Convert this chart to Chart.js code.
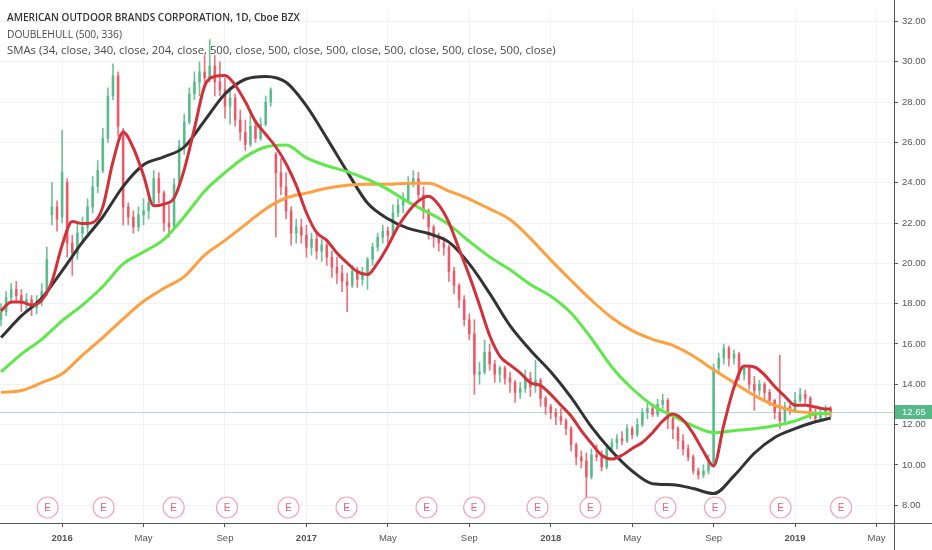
<!DOCTYPE html>
<html>
<head>
<meta charset="utf-8">
<script src="https://cdn.jsdelivr.net/npm/chart.js@4.4.1/dist/chart.umd.min.js"></script>
<style>
  html, body { margin: 0; padding: 0; background: #fff; }
  #wrap { position: relative; width: 932px; height: 550px; }
  #legend { position: absolute; left: 7px; top: 9px; font-family: 'Open Sans', sans-serif; font-size: 11px;
            color: #4a4a4a; pointer-events: none; white-space: nowrap; }
  #legend div { height: 16.5px; line-height: 16.5px; }
  #legend .title { font-weight: 600; color: #333; }
</style>
</head>
<body>
<div id="wrap">
  <canvas id="chart" width="932" height="550"></canvas>
  <div id="legend">
    <div><span class="title" data-w="293">AMERICAN OUTDOOR BRANDS CORPORATION, 1D, Cboe BZX</span></div>
    <div><span data-w="115">DOUBLEHULL (500, 336)</span></div>
    <div><span data-w="549">SMAs (34, close, 340, close, 204, close, 500, close, 500, close, 500, close, 500, close, 500, close, 500, close)</span></div>
  </div>
</div>
<script>
// x values are months counted from Jan 2016 (0 = Jan 2016, 12 = Jan 2017 ...)
// weekly candles, first one in early Oct 2015
const candleStart = -3;
const candleStep = 0.25;
const candleOpen = [
  17.2,17.6,18.3,18.7,18.4,18.0,18.2,17.8,18.1,18.6,
  22.4,22.8,22.3,24.0,21.0,20.5,21.5,21.8,22.8,23.8,
  24.6,26.2,28.3,29.3,26.6,22.8,22.3,21.8,22.4,22.6,
  23.0,24.2,23.5,22.0,21.8,23.9,25.8,27.0,28.4,29.0,
  29.5,29.2,29.8,29.0,28.6,27.8,28.2,27.1,26.5,25.9,
  26.8,26.2,26.9,28.0,25.4,24.5,23.8,22.6,21.5,21.8,
  21.4,20.8,21.2,20.6,20.9,20.3,19.8,19.5,19.1,18.9,
  19.6,19.2,19.5,20.2,20.8,21.3,21.6,21.4,22.5,22.9,
  23.1,24.0,24.2,23.4,22.6,21.8,21.3,21.0,20.8,19.6,
  18.9,18.2,17.2,16.5,14.5,14.6,15.6,15.0,14.5,14.8,
  14.3,14.1,13.6,13.8,14.3,13.9,14.2,13.3,12.9,12.6,
  12.4,12.2,11.8,11.0,10.4,10.2,9.4,10.5,10.4,9.9,
  10.8,11.1,11.3,11.2,11.8,11.5,12.0,12.6,12.8,12.5,
  13.0,13.2,12.3,11.8,11.2,10.8,10.4,9.7,9.5,9.7,
  10.1,14.8,15.3,15.8,15.3,15.5,14.5,14.8,14.0,13.7,
  14.0,13.6,13.2,12.6,12.2,12.9,12.7,13.2,13.5,13.3,
  12.6,12.3,12.5,12.8
];
const candleHigh = [
  18.0,18.6,19.0,19.1,18.7,18.5,18.4,18.4,19.0,20.8,
  24.0,23.1,26.6,24.2,21.4,22.0,22.3,23.2,24.3,25.1,
  26.7,28.7,29.9,29.5,26.7,23.0,22.6,22.8,23.2,23.5,
  24.6,24.5,23.6,22.9,24.2,26.1,27.4,28.7,29.5,30.0,
  30.3,31.1,30.3,30.0,29.2,28.7,28.4,27.6,27.1,27.4,
  27.1,27.2,28.3,28.7,25.5,25.2,24.5,22.8,22.2,22.2,
  21.9,21.5,21.5,21.2,21.0,20.6,20.3,19.9,19.5,19.9,
  19.8,19.8,20.3,21.0,21.5,21.9,21.8,22.9,23.2,23.5,
  24.3,24.6,24.5,23.8,22.7,21.9,21.5,21.3,20.9,19.8,
  19.0,18.4,17.5,17.2,15.1,16.2,16.0,15.2,14.9,14.9,
  14.6,14.2,14.1,14.7,14.6,15.2,14.3,13.4,13.0,12.8,
  12.8,12.3,11.9,11.1,10.7,10.6,10.8,11.0,10.7,11.0,
  11.3,11.5,11.65,12.0,11.9,12.3,12.8,13.1,13.0,13.25,
  13.5,13.3,12.5,11.9,11.5,11.0,10.5,9.85,10.0,10.5,
  15.0,15.55,16.0,15.9,15.7,15.6,14.9,14.9,14.4,14.2,
  14.1,13.75,13.25,15.45,13.1,13.0,13.6,13.8,13.7,13.4,
  12.8,12.8,12.95,12.9
];
const candleLow = [
  16.9,17.4,18.0,18.1,17.6,17.7,17.4,17.5,17.9,18.4,
  21.9,21.6,22.0,20.3,19.4,20.2,21.1,21.5,22.5,23.5,
  24.5,26.0,28.1,26.3,21.9,21.9,21.5,21.6,21.9,22.2,
  22.9,23.0,21.6,21.3,21.7,23.8,25.4,26.9,28.1,28.3,
  28.7,29.0,28.3,28.3,27.2,26.9,26.8,26.1,25.6,25.8,
  26.0,26.1,26.8,27.8,21.3,23.4,22.2,20.9,21.0,21.0,
  20.3,20.4,20.2,20.1,19.9,19.3,19.0,18.6,17.6,18.8,
  18.8,18.9,18.7,19.9,20.6,21.0,21.0,21.3,22.3,22.5,
  23.0,23.8,23.2,22.2,21.2,20.8,20.6,20.4,19.1,18.5,
  17.8,16.9,16.2,13.5,14.0,14.5,14.7,14.1,14.1,14.0,
  13.6,13.1,13.3,13.6,13.4,13.6,12.9,12.5,12.3,12.0,
  12.0,11.5,10.7,10.0,9.85,8.4,9.3,10.2,9.7,9.8,
  10.7,10.8,11.0,11.1,11.3,11.4,11.9,12.3,12.4,12.4,
  12.8,11.8,11.3,10.8,10.5,10.2,9.55,9.3,9.35,9.55,
  10.0,14.6,15.0,14.9,15.0,14.2,14.2,13.75,12.7,13.45,
  13.25,12.95,12.3,11.8,12.1,12.5,12.6,13.1,13.0,12.3,
  12.1,12.2,12.4,12.4
];
const candleClose = [
  17.6,18.3,18.7,18.4,18.0,18.2,17.8,18.1,18.6,20.2,
  22.8,22.2,24.5,21.0,20.5,21.5,21.8,22.8,23.8,24.6,
  26.2,28.3,29.3,26.8,22.8,22.3,21.8,22.4,22.6,23.0,
  24.2,23.5,22.0,21.8,23.9,25.8,27.0,28.4,29.0,29.5,
  29.2,29.8,29.0,28.6,27.8,28.2,27.1,26.5,25.9,26.8,
  26.2,26.9,28.0,28.6,24.5,23.8,22.6,21.5,21.8,21.4,
  20.8,21.2,20.6,20.9,20.3,19.8,19.5,19.1,18.9,19.6,
  19.2,19.5,20.2,20.8,21.3,21.6,21.4,22.5,22.9,23.1,
  24.0,24.2,23.4,22.6,21.8,21.3,21.0,20.8,19.6,18.9,
  18.2,17.2,16.5,14.5,14.6,15.6,15.0,14.5,14.8,14.3,
  14.1,13.6,13.8,14.3,13.9,14.2,13.3,12.9,12.6,12.4,
  12.2,11.8,11.0,10.4,10.2,9.4,10.5,10.4,9.9,10.8,
  11.1,11.3,11.2,11.8,11.5,12.0,12.6,12.8,12.5,13.0,
  13.2,12.3,11.8,11.2,10.8,10.4,9.7,9.5,9.7,10.1,
  14.8,15.3,15.8,15.3,15.5,14.5,14.8,14.0,13.7,14.0,
  13.6,13.2,12.6,12.2,12.9,12.7,13.2,13.5,13.3,12.6,
  12.3,12.5,12.8,12.65
];

// SMA 34 (red), read every half month
const redMonths = [
  -3,-2.5,-2,-1.5,-1,-0.5,0,0.5,1,1.5,2,2.5,3,3.5,4,4.5,5,5.5,6,6.5,
  7,7.5,8,8.5,9,9.5,10,10.5,11,11.5,12,12.5,13,13.5,14,14.5,15,15.5,16,16.5,
  17,17.5,18,18.5,19,19.5,20,20.5,21,21.5,22,22.5,23,23.5,24,24.5,25,25.5,26,26.5,
  27,27.5,28,28.5,29,29.5,30,30.5,31,31.5,32,32.5,33,33.5,34,34.5,35,35.5,36,36.5,
  37,37.5,37.75
];
const sma34 = [
  17.64,18.08,18.08,17.93,18.17,19.10,20.90,22.07,21.97,22.02,
  22.80,25.04,26.50,25.72,24.36,22.85,22.94,23.24,24.65,26.69,
  28.79,29.27,29.32,28.84,28.01,27.03,26.40,25.77,24.94,23.87,
  22.51,21.53,21.14,20.51,20.02,19.59,19.44,20.02,20.85,21.82,
  22.55,23.09,23.33,22.90,22.02,20.70,19.39,17.93,16.42,15.40,
  14.96,14.57,14.08,13.94,13.50,12.96,12.43,11.70,11.07,10.48,
  10.29,10.48,10.82,11.11,11.60,12.18,12.53,12.23,11.55,10.68,
  9.95,11.99,13.84,14.91,14.86,14.47,13.89,13.40,12.96,12.96,
  12.87,12.77,12.77
];

// slow lines, read once a month
const maMonths = [
  -3,-2,-1,0,1,2,3,4,5,6,7,8,9,10,11,12,13,14,15,16,17,18,19,20,
  21,22,23,24,25,26,27,28,29,30,31,32,33,34,35,36,37,37.75
];
const doubleHull = [
  16.32,17.39,18.27,19.63,21.05,22.31,23.82,24.89,25.28,25.77,27.08,28.40,29.13,29.27,
  28.98,27.81,26.21,24.55,22.99,22.21,21.73,21.48,21.05,19.97,18.51,16.91,15.69,14.62,
  13.35,11.89,10.68,9.70,9.07,9.02,8.83,8.58,9.46,10.58,11.36,11.80,12.14,12.33
];
const sma204 = [
  14.62,15.50,16.23,17.15,17.93,18.85,19.97,20.56,21.19,22.31,23.58,24.50,25.28,25.77,
  25.87,25.23,24.84,24.55,24.16,23.67,23.04,22.51,21.92,21.09,20.32,19.68,18.95,18.37,
  17.54,16.27,14.86,13.79,12.96,12.43,11.94,11.60,11.70,11.80,11.94,12.18,12.53,12.57
];
const sma340 = [
  13.60,13.69,14.08,14.52,15.45,16.32,17.25,18.12,18.76,19.34,20.41,21.14,21.92,22.70,
  23.24,23.48,23.72,23.87,23.92,23.92,23.97,23.97,23.58,23.19,22.70,22.17,21.24,20.17,
  19.15,18.17,17.30,16.66,16.23,15.93,15.40,14.72,14.08,13.45,12.96,12.67,12.57,12.53
];

const earningsMonths = [-0.71, 2.04, 5.48, 8.1, 11.12, 13.97, 17.9, 20.24, 23.35, 25.95, 29.64, 32.07, 35.29, 38.26];
const tickMonths = [0, 4, 8, 12, 16, 20, 24, 28, 32, 36, 40];
const tickLabels = ['2016', 'May', 'Sep', '2017', 'May', 'Sep', '2018', 'May', 'Sep', '2019', 'May'];
const priceTicks = [8, 10, 12, 14, 16, 18, 20, 22, 24, 26, 28, 30, 32];
const lastPrice = 12.65;

const UP = 'rgba(83,185,135,0.85)';
const DOWN = 'rgba(235,77,92,0.8)';
const AXIS = '#555';
const GRID = '#f0f2f5';
const TICK_FONT = "'Liberation Sans', Arial, sans-serif";

// squeeze the header lines to the widths they have in the screenshot
document.querySelectorAll('#legend span').forEach(el => {
  const w = el.getBoundingClientRect().width;
  const fs = parseFloat(getComputedStyle(el).fontSize);
  el.style.fontSize = (fs * Number(el.dataset.w) / w).toFixed(2) + 'px';
});

const candleX = candleClose.map((_, i) => candleStart + i * candleStep);
const wicks = candleX.map((x, i) => ({ x: x, y: [candleLow[i], candleHigh[i]] }));
const bodies = candleX.map((x, i) => ({ x: x, y: [candleOpen[i], candleClose[i]] }));
const candleColor = c => candleClose[c.dataIndex] >= candleOpen[c.dataIndex] ? UP : DOWN;

function lineSet(xs, ys, color, order) {
  return {
    type: 'line',
    data: xs.map((x, i) => ({ x: x, y: ys[i] })),
    borderColor: color,
    borderWidth: 3,
    pointRadius: 0,
    cubicInterpolationMode: 'monotone',
    fill: false,
    order: order
  };
}

// price line, earnings marks, axis lines and last price label
const overlay = {
  id: 'overlay',
  beforeDatasetsDraw(chart) {
    const { ctx, chartArea: a, scales: { y } } = chart;
    const py = Math.round(y.getPixelForValue(lastPrice)) + 0.5;
    ctx.save();
    ctx.strokeStyle = 'rgba(83,185,135,0.45)';
    ctx.lineWidth = 1;
    ctx.beginPath();
    ctx.moveTo(a.left, py);
    ctx.lineTo(a.right, py);
    ctx.stroke();
    ctx.restore();
  },
  afterDatasetsDraw(chart) {
    const { ctx, chartArea: a, scales: { x } } = chart;
    ctx.save();
    earningsMonths.forEach(m => {
      const px = x.getPixelForValue(m);
      const cy = a.bottom - 15.5;
      ctx.beginPath();
      ctx.arc(px, cy, 10.5, 0, Math.PI * 2);
      ctx.fillStyle = '#fff';
      ctx.fill();
      ctx.strokeStyle = '#f4a3b8';
      ctx.lineWidth = 1.2;
      ctx.stroke();
      ctx.fillStyle = '#e8627a';
      ctx.font = "10px 'Liberation Sans', Arial, sans-serif";
      ctx.textAlign = 'center';
      ctx.textBaseline = 'middle';
      ctx.fillText('E', px, cy + 0.5);
    });
    ctx.restore();
  },
  afterDraw(chart) {
    const { ctx, chartArea: a, scales: { y }, width, height } = chart;
    ctx.save();
    ctx.strokeStyle = AXIS;
    ctx.lineWidth = 1;
    ctx.beginPath();
    ctx.moveTo(0, a.bottom + 0.5);
    ctx.lineTo(width, a.bottom + 0.5);
    ctx.moveTo(a.right + 0.5, 0);
    ctx.lineTo(a.right + 0.5, height);
    ctx.stroke();
    const py = Math.round(y.getPixelForValue(lastPrice));
    ctx.fillStyle = '#53b987';
    ctx.fillRect(a.right + 1, py - 7, width - a.right, 14);
    ctx.fillStyle = '#fff';
    ctx.font = '9.5px ' + TICK_FONT;
    ctx.textAlign = 'left';
    ctx.textBaseline = 'middle';
    ctx.fillText(lastPrice.toFixed(2), a.right + 8, py + 0.5);
    ctx.restore();
  }
};

const ctx = document.getElementById('chart').getContext('2d');
const chart = new Chart(ctx, {
  type: 'bar',
  data: {
    datasets: [
      lineSet(redMonths, sma34, '#d3313a', 1),
      lineSet(maMonths, sma204, '#5fe84a', 2),
      lineSet(maMonths, sma340, '#ffa040', 3),
      lineSet(maMonths, doubleHull, '#333333', 4),
      { type: 'bar', data: bodies, backgroundColor: candleColor, barThickness: 2, minBarLength: 1, grouped: false, order: 8 },
      { type: 'bar', data: wicks, backgroundColor: candleColor, barThickness: 1, grouped: false, order: 9 }
    ]
  },
  options: {
    responsive: false,
    animation: false,
    devicePixelRatio: 1,
    layout: { padding: 0 },
    plugins: { legend: { display: false }, tooltip: { enabled: false } },
    scales: {
      x: {
        type: 'linear',
        min: -3.05,
        max: 40.86,
        offset: false,
        border: { display: false },
        grid: { color: GRID, offset: false, drawTicks: true, tickLength: 4, tickColor: AXIS },
        afterBuildTicks: s => { s.ticks = tickMonths.map(v => ({ value: v })); },
        afterFit: s => { s.height = 27; },
        ticks: {
          autoSkip: false,
          maxRotation: 0,
          padding: 6,
          color: AXIS,
          font: c => ({ family: TICK_FONT, size: 9.5, weight: (c.tick && c.tick.value % 12 === 0) ? 'bold' : 'normal' }),
          callback: v => tickLabels[tickMonths.indexOf(v)]
        }
      },
      y: {
        type: 'linear',
        position: 'right',
        min: 7.12,
        max: 32.58,
        border: { display: false },
        grid: { color: GRID, drawTicks: true, tickLength: 4, tickColor: AXIS },
        afterBuildTicks: s => { s.ticks = priceTicks.map(v => ({ value: v })); },
        afterFit: s => { s.width = 38; },
        ticks: {
          padding: 4,
          color: AXIS,
          font: { family: TICK_FONT, size: 9.5 },
          callback: v => v.toFixed(2)
        }
      }
    }
  },
  plugins: [overlay]
});
</script>
</body>
</html>
